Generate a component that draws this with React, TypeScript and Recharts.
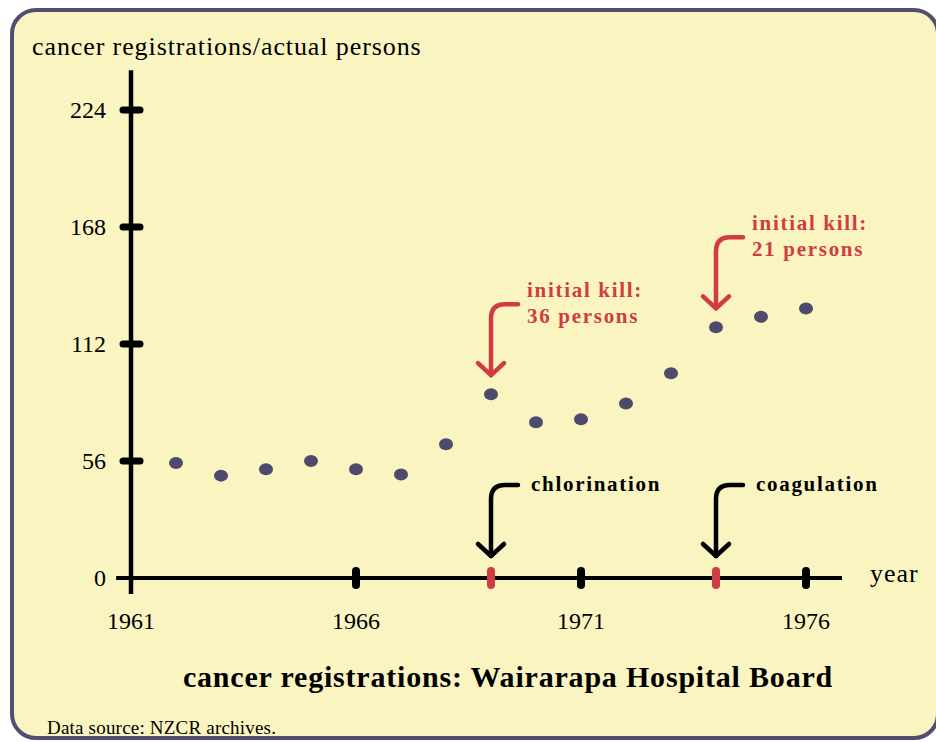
import { ScatterChart, Scatter, XAxis, YAxis, ReferenceLine, ReferenceDot } from 'recharts'

// cancer registrations per year, Wairarapa Hospital Board
const years = [1962, 1963, 1964, 1965, 1966, 1967, 1968, 1969, 1970, 1971, 1972, 1973, 1974, 1975, 1976]
const registrations = [55, 49, 52, 56, 52, 49.5, 64, 88, 74.5, 76, 83.5, 98, 120, 125, 129]

const yTicks = [0, 56, 112, 168, 224]
const xLabelYears = [1961, 1966, 1971, 1976]
const xMarkYears = [1966, 1971, 1976]

// treatment events marked on the year axis
const eventYears = [1969, 1974]
const eventLabels = ['chlorination', 'coagulation']
const killLabels = [
  ['initial kill:', '36 persons'],
  ['initial kill:', '21 persons'],
]

const INK = '#000000'
const RED = '#d03c43'
const DOT = '#4e4a6e'
const BG = '#f9f4c0'
const FRAME = '#524e72'
const FONT = "'Liberation Serif', 'Times New Roman', serif"

const data = years.map((year, i) => ({ year, value: registrations[i] }))

function Arrow({ x, y, color }: { x: number; y: number; color: string }) {
  return (
    <g fill="none" stroke={color} strokeWidth={4.5} strokeLinecap="round" strokeLinejoin="round">
      <path d={`M ${x + 27} ${y - 71} L ${x + 14} ${y - 71} Q ${x} ${y - 71} ${x} ${y - 57} L ${x} ${y}`} />
      <path d={`M ${x - 13} ${y - 12} L ${x} ${y} L ${x + 13} ${y - 12}`} />
    </g>
  )
}

const renderYTick = (props: any) => {
  const { x, y, payload } = props
  return (
    <g>
      {payload.value > 0 && (
        <rect x={x - 11.5} y={y - 3.5} width={24} height={7} rx={3.5} fill={INK} />
      )}
      <text x={x - 25} y={y + 8} textAnchor="end" fontSize={24} fontFamily={FONT} fill={INK}>
        {payload.value}
      </text>
    </g>
  )
}

const renderXTick = (props: any) => {
  const { x, y, payload } = props
  const year = payload.value
  const isEvent = eventYears.includes(year)
  const isMark = xMarkYears.includes(year)
  return (
    <g>
      {(isEvent || isMark) && (
        <rect x={x - 4} y={y - 11} width={8} height={22} rx={4} fill={isEvent ? RED : INK} />
      )}
      {xLabelYears.includes(year) && (
        <text x={x} y={y + 51} textAnchor="middle" fontSize={24} fontFamily={FONT} fill={INK}>
          {year}
        </text>
      )}
    </g>
  )
}

const killShape = (lines: string[]) => (props: any) => {
  const { cx, cy } = props
  const tipY = cy - 19
  return (
    <g>
      <Arrow x={cx} y={tipY} color={RED} />
      <text fontSize={21} fontWeight="bold" fontFamily={FONT} fill={RED} letterSpacing={1.7}>
        <tspan x={cx + 36} y={tipY - 78}>{lines[0]}</tspan>
        <tspan x={cx + 36} y={tipY - 52}>{lines[1]}</tspan>
      </text>
    </g>
  )
}

const eventShape = (label: string) => (props: any) => {
  const { cx, cy } = props
  const tipY = cy - 22
  return (
    <g>
      <Arrow x={cx} y={tipY} color={INK} />
      <text x={cx + 40} y={tipY - 65} fontSize={21} fontWeight="bold" fontFamily={FONT} fill={INK} letterSpacing={1.7}>
        {label}
      </text>
    </g>
  )
}

export default function App() {
  return (
    <div style={{ position: 'absolute', left: 0, top: 0, width: 936, height: 742, background: '#fff', overflow: 'hidden' }}>
      <div
        style={{
          position: 'absolute',
          left: 10,
          top: 8,
          width: 922,
          height: 724,
          background: BG,
          border: `4px solid ${FRAME}`,
          borderRadius: 26,
        }}
      />
      <div style={{ position: 'absolute', left: 0, top: 0 }}>
        <ScatterChart width={936} height={742} margin={{ top: 110, right: 130, bottom: 134, left: 71 }}>
          <XAxis
            type="number"
            dataKey="year"
            domain={[1961, 1976]}
            ticks={[1961, 1966, 1969, 1971, 1974, 1976]}
            interval={0}
            height={30}
            tickSize={0}
            tickMargin={0}
            axisLine={false}
            tickLine={false}
            tick={renderXTick}
          />
          <YAxis
            type="number"
            dataKey="value"
            domain={[0, 224]}
            ticks={yTicks}
            interval={0}
            width={60}
            tickSize={0}
            tickMargin={0}
            axisLine={false}
            tickLine={false}
            tick={renderYTick}
          />
          <ReferenceLine
            segment={[{ x: 1960.67, y: 0 }, { x: 1976.8, y: 0 }]}
            stroke={INK}
            strokeWidth={4}
            ifOverflow="visible"
          />
          <ReferenceLine
            segment={[{ x: 1961, y: -7.7 }, { x: 1961, y: 243 }]}
            stroke={INK}
            strokeWidth={4.5}
            ifOverflow="visible"
          />
          <Scatter
            data={data}
            isAnimationActive={false}
            shape={(p: any) => <ellipse cx={p.cx} cy={p.cy} rx={7} ry={6} fill={DOT} />}
          />
          {eventYears.map((year, i) => (
            <ReferenceDot
              key={`kill-${year}`}
              x={year}
              y={registrations[years.indexOf(year)]}
              ifOverflow="visible"
              shape={killShape(killLabels[i])}
            />
          ))}
          {eventYears.map((year, i) => (
            <ReferenceDot
              key={`event-${year}`}
              x={year}
              y={0}
              ifOverflow="visible"
              shape={eventShape(eventLabels[i])}
            />
          ))}
        </ScatterChart>
      </div>
      <svg width={936} height={742} style={{ position: 'absolute', left: 0, top: 0, pointerEvents: 'none' }}>
        <text x={32} y={55} fontSize={26} fontFamily={FONT} fill={INK} letterSpacing={0.9}>
          cancer registrations/actual persons
        </text>
        <text x={870} y={582} fontSize={26} fontFamily={FONT} fill={INK} letterSpacing={1}>
          year
        </text>
        <text x={508} y={687} textAnchor="middle" fontSize={30} fontWeight="bold" fontFamily={FONT} fill={INK} letterSpacing={0.8}>
          cancer registrations: Wairarapa Hospital Board
        </text>
        <text x={47} y={734} fontSize={19} fontFamily={FONT} fill={INK} letterSpacing={0.2}>
          Data source: NZCR archives.
        </text>
      </svg>
    </div>
  )
}
